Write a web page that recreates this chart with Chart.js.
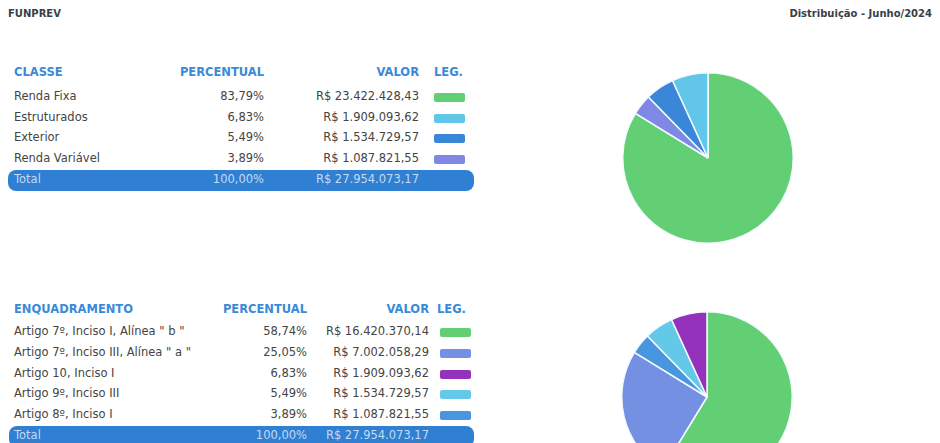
<!DOCTYPE html>
<html>
<head>
<meta charset="utf-8">
<script src="https://cdn.jsdelivr.net/npm/chart.js@4/dist/chart.umd.min.js"></script>
<style>
  html, body { margin: 0; padding: 0; background: #fff; overflow: hidden; }
  body { width: 940px; height: 443px; position: relative; font-family: "DejaVu Sans", Verdana, sans-serif; color: #444; }
  .title { position: absolute; top: 8px; font-size: 10px; font-weight: bold; color: #3a3f47; }
  .cell { position: absolute; font-size: 11.5px; white-space: nowrap; line-height: 13px; }
  .head { font-weight: bold; color: #3a8ad8; }
  .sw { position: absolute; height: 9px; border-radius: 2px; }
  .total { position: absolute; background: #2f7fd2; border-radius: 8px; }
  .total-txt { color: rgba(225, 235, 250, 0.85); }
  canvas { position: absolute; }
</style>
</head>
<body>
<div class="title" style="left:8px;">FUNPREV</div>
<div class="title" style="right:8px;">Distribuição - Junho/2024</div>
<div id="t1"></div>
<div id="t2"></div>
<canvas id="pie1" width="172" height="172" style="left:622px;top:72px;width:172px;height:172px;"></canvas>
<canvas id="pie2" width="172" height="172" style="left:621px;top:311px;width:172px;height:172px;"></canvas>
<script>
// --- data: classe ---
const classeLabels = ['Renda Fixa', 'Estruturados', 'Exterior', 'Renda Variável'];
const classePerc = ['83,79%', '6,83%', '5,49%', '3,89%'];
const classeValor = ['R$ 23.422.428,43', 'R$ 1.909.093,62', 'R$ 1.534.729,57', 'R$ 1.087.821,55'];
const classeShare = [83.79, 6.83, 5.49, 3.89];
const classeColors = ['#63cf74', '#62c6e8', '#3a87da', '#7f88e4'];
const classePieOrder = [0, 3, 2, 1];

// --- data: enquadramento ---
const enqLabels = ['Artigo 7º, Inciso I, Alínea " b "', 'Artigo 7º, Inciso III, Alínea " a "', 'Artigo 10, Inciso I', 'Artigo 9º, Inciso III', 'Artigo 8º, Inciso I'];
const enqPerc = ['58,74%', '25,05%', '6,83%', '5,49%', '3,89%'];
const enqValor = ['R$ 16.420.370,14', 'R$ 7.002.058,29', 'R$ 1.909.093,62', 'R$ 1.534.729,57', 'R$ 1.087.821,55'];
const enqShare = [58.74, 25.05, 6.83, 5.49, 3.89];
const enqColors = ['#63cf74', '#7490e2', '#9432bb', '#64c9e9', '#4896df'];
const enqPieOrder = [0, 1, 4, 3, 2];

const totalPerc = '100,00%';
const totalValor = 'R$ 27.954.073,17';

// --- table rendering ---
const cell = (parent, text, x, y, cls, alignRight) => {
    const d = document.createElement('div');
    d.className = 'cell ' + (cls || '');
    d.textContent = text;
    d.style.top = (y - 7) + 'px';
    if (alignRight) { d.style.right = (940 - x) + 'px'; } else { d.style.left = x + 'px'; }
    parent.appendChild(d);
};

const renderTable = (id, cfg) => {
    const el = document.getElementById(id);
    cell(el, cfg.head, 14, cfg.y0, 'head');
    cell(el, 'PERCENTUAL', cfg.percX, cfg.y0, 'head', true);
    cell(el, 'VALOR', cfg.valX, cfg.y0, 'head', true);
    cell(el, 'LEG.', cfg.legX, cfg.y0, 'head');
    cfg.labels.forEach((lab, i) => {
        const y = cfg.y1 + i * cfg.pitch;
        cell(el, lab, 14, y);
        cell(el, cfg.perc[i], cfg.percX, y, '', true);
        cell(el, cfg.valor[i], cfg.valX, y, '', true);
        const s = document.createElement('div');
        s.className = 'sw';
        s.style.left = cfg.swX + 'px';
        s.style.width = cfg.swW + 'px';
        s.style.top = (y - 4) + 'px';
        s.style.background = cfg.colors[i];
        el.appendChild(s);
    });
    const ty = cfg.y1 + cfg.labels.length * cfg.pitch;
    const bar = document.createElement('div');
    bar.className = 'total';
    bar.style.left = cfg.barX + 'px';
    bar.style.width = cfg.barW + 'px';
    bar.style.top = (ty - 10) + 'px';
    bar.style.height = '21px';
    el.appendChild(bar);
    cell(el, 'Total', 14, ty, 'total-txt');
    cell(el, totalPerc, cfg.percX, ty, 'total-txt', true);
    cell(el, totalValor, cfg.valX, ty, 'total-txt', true);
};

renderTable('t1', {
    head: 'CLASSE', labels: classeLabels, perc: classePerc, valor: classeValor, colors: classeColors,
    y0: 73, y1: 97, pitch: 20.7, percX: 264, valX: 419, legX: 434, swX: 434, swW: 31, barX: 8, barW: 466
});
renderTable('t2', {
    head: 'ENQUADRAMENTO', labels: enqLabels, perc: enqPerc, valor: enqValor, colors: enqColors,
    y0: 310, y1: 332, pitch: 20.8, percX: 307, valX: 429, legX: 437, swX: 440, swW: 31, barX: 9, barW: 465
});

// --- pies ---
const makePie = (id, labels, share, colors, order) => {
    new Chart(document.getElementById(id), {
        type: 'pie',
        data: {
            labels: order.map(i => labels[i]),
            datasets: [{
                data: order.map(i => share[i]),
                backgroundColor: order.map(i => colors[i]),
                borderColor: '#f4fbff',
                borderWidth: 1.5
            }]
        },
        options: {
            responsive: false,
            animation: false,
            plugins: { legend: { display: false }, tooltip: { enabled: false } }
        }
    });
};

makePie('pie1', classeLabels, classeShare, classeColors, classePieOrder);
makePie('pie2', enqLabels, enqShare, enqColors, enqPieOrder);
</script>
</body>
</html>
